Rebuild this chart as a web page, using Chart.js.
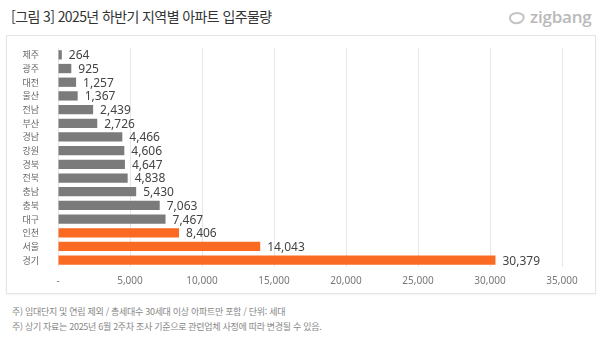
<!DOCTYPE html>
<html lang="ko">
<head>
<meta charset="utf-8">
<script src="https://cdn.jsdelivr.net/npm/chart.js@4/dist/chart.umd.min.js"></script>
<style>
  html, body { margin: 0; padding: 0; background: #fff; }
  body { width: 600px; height: 338px; position: relative; overflow: hidden;
         font-family: "Noto Sans CJK KR", "Noto Sans", sans-serif; }
  .title { position: absolute; left: 11px; top: 6px; font-size: 14px; color: #333; letter-spacing: -0.6px; }
  .logo { position: absolute; left: 508px; top: 5px; font-size: 17px; font-weight: 600; color: #b9b9b9;
          font-family: "Open Sans", sans-serif; letter-spacing: -0.2px; }
  .logo svg { vertical-align: -3px; margin-right: 4px; }
  .frame { position: absolute; left: 6px; top: 35px; width: 588px; height: 257px;
           border: 1px solid #e4e4e4; box-shadow: 0 1px 2px rgba(0,0,0,0.05); background: #fff; }
  .note { position: absolute; left: 12px; font-size: 9px; color: #888; letter-spacing: -0.3px; }
  canvas { position: absolute; left: 0; top: 0; }
</style>
</head>
<body>
<div class="title">[그림 3] 2025년 하반기 지역별 아파트 입주물량</div>
<div class="logo"><svg width="18" height="16" viewBox="0 0 18 16"><path d="M3 5 Q9 1 15 5 Q17 9 13 12 Q7 15 3 11 Q1 8 3 5 Z" fill="none" stroke="#c4c4c4" stroke-width="2"/></svg>zigbang</div>
<div class="frame"></div>
<div class="note" style="top:305px">주) 임대단지 및 연립 제외 / 총세대수 30세대 이상 아파트만 포함 / 단위: 세대</div>
<div class="note" style="top:320px">주) 상기 자료는 2025년 6월 2주차 조사 기준으로 관련업체 사정에 따라 변경될 수 있음.</div>
<canvas id="chart" width="600" height="338"></canvas>
<script>
const regions = ['제주', '광주', '대전', '울산', '전남', '부산', '경남', '강원', '경북', '전북', '충남', '충북', '대구', '인천', '서울', '경기'];
const supply = [264, 925, 1257, 1367, 2439, 2726, 4466, 4606, 4647, 4838, 5430, 7063, 7467, 8406, 14043, 30379];
const highlighted = ['인천', '서울', '경기'];
const xTicks = [0, 5000, 10000, 15000, 20000, 25000, 30000, 35000];

const GRAY = '#7b7b7b';
const ORANGE = '#fb6a22';

// value labels at the end of each bar
const barValues = {
  id: 'barValues',
  afterDatasetsDraw(chart) {
    const ctx = chart.ctx;
    const meta = chart.getDatasetMeta(0);
    ctx.save();
    ctx.font = '12px "Noto Sans", sans-serif';
    ctx.fillStyle = '#444';
    ctx.textAlign = 'left';
    ctx.textBaseline = 'middle';
    meta.data.forEach((bar, i) => {
      ctx.fillText(supply[i].toLocaleString('en-US'), bar.x + 7, bar.y + 1);
    });
    ctx.restore();
  }
};

new Chart(document.getElementById('chart'), {
  type: 'bar',
  data: {
    labels: regions,
    datasets: [{
      data: supply,
      backgroundColor: regions.map(r => highlighted.includes(r) ? ORANGE : GRAY),
      categoryPercentage: 1,
      barPercentage: 0.68
    }]
  },
  options: {
    indexAxis: 'y',
    responsive: false,
    animation: false,
    layout: { padding: { top: 48, right: 38, left: 0, bottom: 0 } },
    plugins: { legend: { display: false }, tooltip: { enabled: false } },
    scales: {
      x: {
        min: 0,
        max: 35000,
        afterFit(scale) { scale.height = 71; },
        afterBuildTicks(scale) { scale.ticks = xTicks.map(v => ({ value: v })); },
        grid: { color: '#e6e6e6', drawTicks: false },
        border: { display: false },
        ticks: {
          autoSkip: false,
          maxRotation: 0,
          padding: 8,
          color: '#777',
          font: { size: 10, family: '"Noto Sans", sans-serif' },
          callback: v => v === 0 ? '-' : v.toLocaleString('en-US')
        }
      },
      y: {
        afterFit(scale) { scale.width = 58; },
        grid: { display: false },
        border: { display: false },
        ticks: {
          autoSkip: false,
          padding: 11,
          color: '#666',
          font: { size: 9, family: '"Noto Sans CJK KR", sans-serif' }
        }
      }
    }
  },
  plugins: [barValues]
});
</script>
</body>
</html>
